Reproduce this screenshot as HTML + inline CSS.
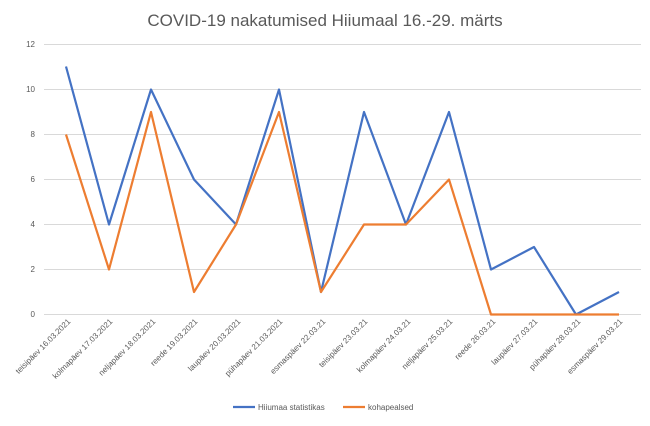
<!DOCTYPE html>
<html><head><meta charset="utf-8"><style>body{margin:0;background:#fff}</style></head><body>
<svg width="650" height="421" xmlns="http://www.w3.org/2000/svg" font-family="Liberation Sans, sans-serif">
<rect width="650" height="421" fill="#fff"/>
<text x="325" y="26" text-anchor="middle" font-size="17" fill="#595959">COVID-19 nakatumised Hiiumaal 16.-29. märts</text>
<g stroke="#d9d9d9" stroke-width="1">
<line x1="44" x2="641" y1="44.5" y2="44.5"/><line x1="44" x2="641" y1="89.5" y2="89.5"/>
<line x1="44" x2="641" y1="134.5" y2="134.5"/><line x1="44" x2="641" y1="179.5" y2="179.5"/>
<line x1="44" x2="641" y1="224.5" y2="224.5"/><line x1="44" x2="641" y1="269.5" y2="269.5"/>
<line x1="44" x2="641" y1="314.5" y2="314.5"/>
</g>
<g font-size="8" fill="#595959" text-anchor="end">
<text x="35" y="47">12</text><text x="35" y="92">10</text><text x="35" y="137">8</text>
<text x="35" y="182">6</text><text x="35" y="227">4</text><text x="35" y="272">2</text><text x="35" y="317">0</text>
</g>
<polyline fill="none" stroke="#4472c4" stroke-width="2.2" stroke-linejoin="round" points="66,66.5 109,224.5 151,89.5 194,179.5 236,224.5 279,89.5 321,292 364,112 406,224.5 449,112 491,269.5 534,247 576,314.5 619,292"/>
<polyline fill="none" stroke="#ed7d31" stroke-width="2.2" stroke-linejoin="round" points="66,134.5 109,269.5 151,112 194,292 236,224.5 279,112 321,292 364,224.5 406,224.5 449,179.5 491,314.5 534,314.5 576,314.5 619,314.5"/>
<g font-size="8" fill="#595959" text-anchor="end">
<text transform="translate(71,322) rotate(-45)">teisipäev 16.03.2021</text>
<text transform="translate(113,322) rotate(-45)">kolmapäev 17.03.2021</text>
<text transform="translate(156,322) rotate(-45)">neljapäev 18.03.2021</text>
<text transform="translate(198,322) rotate(-45)">reede 19.03.2021</text>
<text transform="translate(241,322) rotate(-45)">laupäev 20.03.2021</text>
<text transform="translate(283,322) rotate(-45)">pühapäev 21.03.2021</text>
<text transform="translate(326,322) rotate(-45)">esmaspäev 22.03.21</text>
<text transform="translate(368,322) rotate(-45)">teisipäev 23.03.21</text>
<text transform="translate(411,322) rotate(-45)">kolmapäev 24.03.21</text>
<text transform="translate(453,322) rotate(-45)">neljapäev 25.03.21</text>
<text transform="translate(496,322) rotate(-45)">reede 26.03.21</text>
<text transform="translate(538,322) rotate(-45)">laupäev 27.03.21</text>
<text transform="translate(581,322) rotate(-45)">pühapäev 28.03.21</text>
<text transform="translate(623,322) rotate(-45)">esmaspäev 29.03.21</text>
</g>
<line x1="233" x2="255" y1="407" y2="407" stroke="#4472c4" stroke-width="2.2"/>
<text x="258" y="410" font-size="8" fill="#595959">Hiiumaa statistikas</text>
<line x1="343" x2="365" y1="407" y2="407" stroke="#ed7d31" stroke-width="2.2"/>
<text x="368" y="410" font-size="8" fill="#595959">kohapealsed</text>
</svg>
</body></html>
